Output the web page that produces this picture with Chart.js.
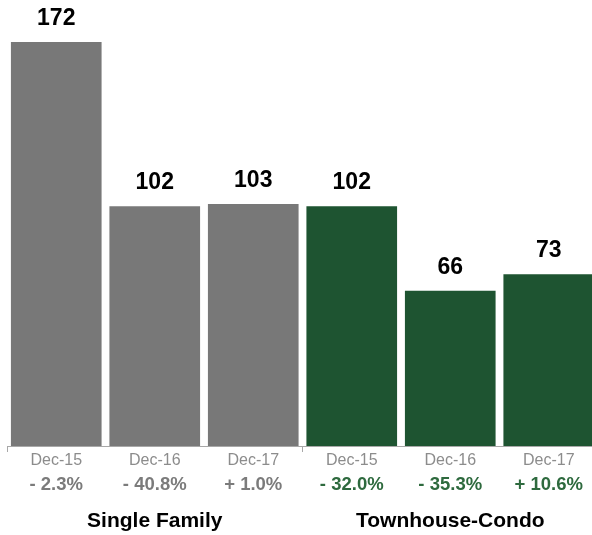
<!DOCTYPE html>
<html>
<head>
<meta charset="utf-8">
<script src="https://cdn.jsdelivr.net/npm/chart.js@4/dist/chart.umd.min.js"></script>
<style>
  html, body { margin: 0; padding: 0; background: #fff; overflow: hidden; }
  #wrap { width: 600px; height: 535px; position: relative; }
</style>
</head>
<body>
<div id="wrap"><canvas id="c" width="600" height="535"></canvas></div>
<script>
const categories = ["Dec-15", "Dec-16", "Dec-17", "Dec-15", "Dec-16", "Dec-17"];
const values = [172, 102, 103, 102, 66, 73];
const changes = ["- 2.3%", "- 40.8%", "+ 1.0%", "- 32.0%", "- 35.3%", "+ 10.6%"];
const groups = ["Single Family", "Townhouse-Condo"];
const groupSize = 3;

const GREY = '#787878';
const GREEN = '#1e5431';
const GREEN_TXT = '#2e6a3e';
const GREY_TXT = '#7b7b7b';
const barColors = values.map((v, i) => i < groupSize ? GREY : GREEN);
const changeColors = values.map((v, i) => i < groupSize ? GREY_TXT : GREEN_TXT);
const FONT = '"Liberation Sans", Arial, Helvetica, sans-serif';

const labelsPlugin = {
  id: 'labels',
  afterDraw(chart) {
    const ctx = chart.ctx;
    const x = chart.scales.x;
    const meta = chart.getDatasetMeta(0);
    ctx.save();
    ctx.textAlign = 'center';
    ctx.textBaseline = 'alphabetic';
    ctx.font = 'bold 23px ' + FONT;
    ctx.fillStyle = '#000';
    meta.data.forEach((bar, i) => {
      ctx.fillText(String(values[i]), bar.x, bar.y - 17.5);
    });
    categories.forEach((c, i) => {
      const px = x.getPixelForValue(i);
      ctx.font = '16px ' + FONT;
      ctx.fillStyle = '#8c8c8c';
      ctx.fillText(c, px, 465);
      ctx.font = 'bold 18.5px ' + FONT;
      ctx.fillStyle = changeColors[i];
      ctx.fillText(changes[i], px, 490);
    });
    ctx.font = 'bold 21px ' + FONT;
    ctx.fillStyle = '#000';
    groups.forEach((g, gi) => {
      const px = x.getPixelForValue(gi * groupSize + (groupSize - 1) / 2);
      ctx.fillText(g, px, 527);
    });
    ctx.restore();
  }
};

new Chart(document.getElementById('c'), {
  type: 'bar',
  data: {
    labels: categories.map((c, i) => i),
    datasets: [{
      data: values,
      backgroundColor: barColors,
      borderWidth: 0,
      barThickness: 90
    }]
  },
  options: {
    responsive: false,
    animation: false,
    events: [],
    layout: { padding: { left: 7, right: 2, top: 0, bottom: 0 } },
    plugins: { legend: { display: false }, tooltip: { enabled: false } },
    scales: {
      x: {
        ticks: { display: false },
        grid: {
          offset: true,
          drawOnChartArea: false,
          drawTicks: true,
          tickLength: 6,
          color: (c) => (c.index % groupSize === 0) ? '#a8a8a8' : 'rgba(0,0,0,0)'
        },
        border: { display: true, color: '#a8a8a8', width: 1 },
        afterFit: (s) => { s.height = 89; }
      },
      y: {
        display: false,
        min: 0,
        max: 190
      }
    }
  },
  plugins: [labelsPlugin]
});
</script>
</body>
</html>
